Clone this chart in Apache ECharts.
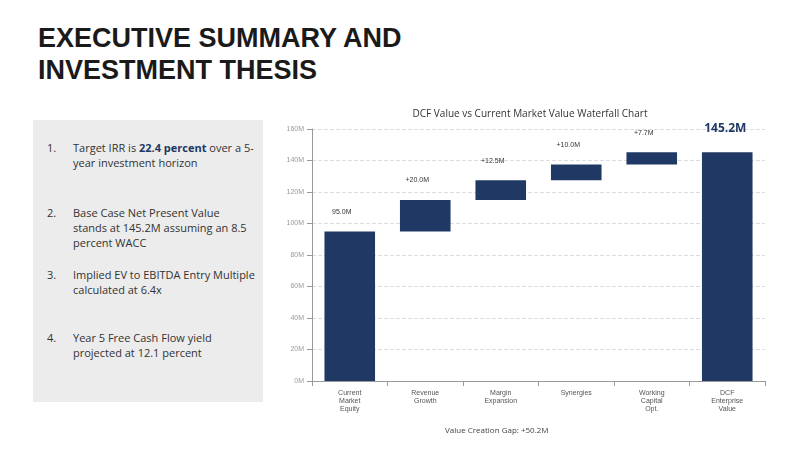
<!DOCTYPE html>
<html><head><meta charset="utf-8">
<script src="https://cdn.jsdelivr.net/npm/echarts@6/dist/echarts.min.js"></script>
<style>
body{margin:0;width:800px;height:450px;background:#fff;position:relative;overflow:hidden;font-family:"Open Sans",sans-serif;}
h1{position:absolute;left:38px;top:22px;margin:0;font-family:"Liberation Sans",Arial,sans-serif;font-weight:bold;font-size:27px;line-height:32px;color:#1a1a1a;}
#panel{position:absolute;left:33px;top:120px;width:230px;height:282px;background:#ececec;}
#panel ol{margin:0;padding:0;list-style:none;font-size:11px;line-height:15px;color:#333;}
#panel li{position:absolute;left:40px;width:182px;}
#panel li span.n{position:absolute;left:-26px;}
b{color:#1f3864;}
#chart{position:absolute;left:270px;top:100px;width:520px;height:340px;}
</style></head><body>
<h1>EXECUTIVE SUMMARY AND<br>INVESTMENT THESIS</h1>
<div id="panel"><ol>
<li style="top:20px"><span class="n">1.</span>Target IRR is <b>22.4 percent</b> over a 5-year investment horizon</li>
<li style="top:85px"><span class="n">2.</span>Base Case Net Present Value stands at 145.2M assuming an 8.5 percent WACC</li>
<li style="top:147px"><span class="n">3.</span>Implied EV to EBITDA Entry Multiple calculated at 6.4x</li>
<li style="top:210px"><span class="n">4.</span>Year 5 Free Cash Flow yield projected at 12.1 percent</li>
</ol></div>
<div id="chart"></div>
<script>
const categories=["Current\nMarket\nEquity","Revenue\nGrowth","Margin\nExpansion","Synergies","Working\nCapital\nOpt.","DCF\nEnterprise\nValue"];
const baseValues=[0,95,115,127.5,137.5,0];
const barValues=[95,20,12.5,10,7.7,145.2];
const labelTexts=["95.0M","+20.0M","+12.5M","+10.0M","+7.7M","145.2M"];
const yTicks=[0,20,40,60,80,100,120,140,160];
const navy="#1f3864";
const chart=echarts.init(document.getElementById('chart'));
chart.setOption({
  animation:false,
  title:[{text:"DCF Value vs Current Market Value Waterfall Chart",left:'center',top:4,textStyle:{fontSize:10,fontWeight:'normal',color:'#333',fontFamily:'Open Sans'}},
         {text:"Value Creation Gap: +50.2M",left:170,top:322,textStyle:{fontSize:8,fontWeight:'normal',color:'#444',fontFamily:'Open Sans'}}],
  grid:{left:42,right:25,top:29,bottom:59},
  xAxis:{type:'category',data:categories,axisTick:{show:true,alignWithLabel:false,lineStyle:{color:'#999'}},axisLine:{lineStyle:{color:'#999'}},
    axisLabel:{fontSize:7,color:'#555',lineHeight:8,interval:0,fontFamily:'Liberation Sans'}},
  yAxis:{type:'value',min:0,max:160,interval:20,axisLine:{show:true,lineStyle:{color:'#999'}},axisTick:{show:true,lineStyle:{color:'#999'}},
    axisLabel:{fontSize:7,color:'#999',formatter:v=>v+'M',fontFamily:'Liberation Sans'},
    splitLine:{lineStyle:{color:'#ddd',type:'dashed'}}},
  series:[
    {type:'bar',stack:'w',data:baseValues,itemStyle:{color:'transparent'},barWidth:'67%'},
    {type:'bar',stack:'w',data:barValues.map((v,i)=>({value:v,label:i===5?{offset:[-2,-12],fontSize:12,fontWeight:'bold',color:navy,fontFamily:'Open Sans'}:{}})),
     itemStyle:{color:navy},
     label:{show:true,position:'top',distance:6,offset:[-8,-10],fontSize:7,color:'#333',fontFamily:'Liberation Sans',formatter:p=>labelTexts[p.dataIndex]}}
  ]
});
</script></body></html>
